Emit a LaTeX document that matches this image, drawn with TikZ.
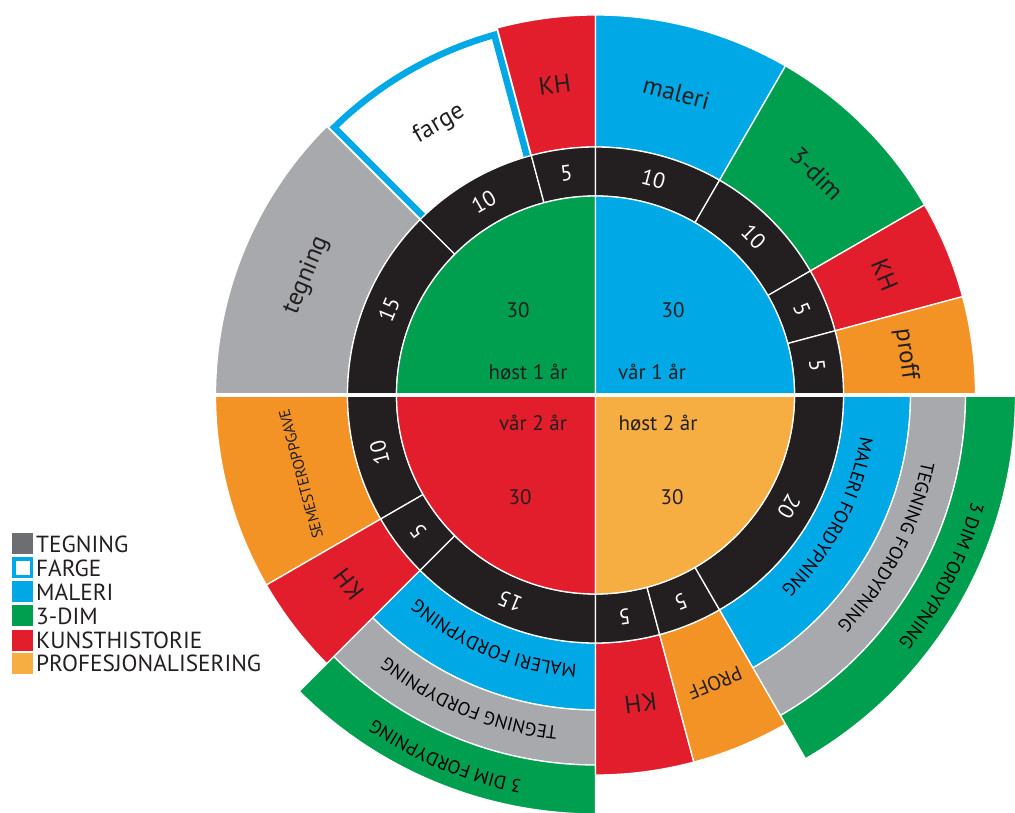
\documentclass[tikz,border=0pt]{standalone}
\usepackage{fontspec}
\setmainfont{PT Sans}
\usetikzlibrary{decorations.text,calc}
\definecolor{cgray}{HTML}{A7A9AC}
\definecolor{cblue}{HTML}{00A8E6}
\definecolor{cgreen}{HTML}{009E4F}
\definecolor{cred}{HTML}{E31E2C}
\definecolor{corange}{HTML}{F39325}
\definecolor{clight}{HTML}{F6AD42}
\definecolor{cblack}{HTML}{231F20}
\definecolor{lgray}{HTML}{6D6E71}
\newcommand{\mysec}[5]{\fill[#5, draw=white, line width=1.3pt] (#1:#3) arc[start angle=#1, end angle=#2, radius=#3] -- (#2:#4) arc[start angle=#2, end angle=#1, radius=#4] -- cycle;}
\newcommand{\myquart}[3]{\fill[#3, draw=white, line width=1.3pt] (0,0) -- (#1:199pt) arc[start angle=#1, end angle=#2, radius=199pt] -- cycle;}
\newcommand{\arcfont}{\fontsize{18.6}{18.6}\selectfont}
\tikzset{
  lbl/.style={font=\fontsize{25}{25}\selectfont, text=cblack, inner sep=0pt},
  small/.style={font=\fontsize{20}{20}\selectfont, text=cblack, inner sep=0pt},
  tiny/.style={font=\fontsize{15.5}{15.5}\selectfont, text=cblack, inner sep=0pt},
  num/.style={font=\fontsize{22}{22}\selectfont, text=white, inner sep=0pt},
  inner/.style={font=\fontsize{21}{21}\selectfont, text=cblack, inner sep=0pt},
  leg/.style={font=\fontsize{23.3}{23.3}\selectfont, text=cblack, inner sep=0pt, anchor=west},
  sq/.style={minimum size=21pt, inner sep=0pt, outer sep=0pt}
}
\begin{document}
\begin{tikzpicture}
\useasboundingbox (0,0) rectangle (1015pt,812pt);
\begin{scope}
\clip (0,0) rectangle (1015pt,812pt);
\begin{scope}[shift={(595.5pt,417pt)}]
% outer segments top-left
\mysec{135}{180}{248pt}{380pt}{cgray}
\mysec{105}{135}{248pt}{380pt}{white}
\mysec{90}{105}{248pt}{380pt}{cred}
% top-right
\mysec{60}{90}{248pt}{380pt}{cblue}
\mysec{30}{60}{248pt}{380pt}{cgreen}
\mysec{15}{30}{248pt}{380pt}{cred}
\mysec{0}{15}{248pt}{380pt}{corange}
% bottom-left
\mysec{180}{210}{248pt}{380pt}{corange}
\mysec{210}{225}{248pt}{380pt}{cred}
\mysec{225}{270}{248pt}{315pt}{cblue}
\mysec{225}{270}{315pt}{370pt}{cgray}
\mysec{225}{270}{370pt}{419pt}{cgreen}
% bottom-right
\mysec{270}{285}{248pt}{380pt}{cred}
\mysec{285}{300}{248pt}{380pt}{corange}
\mysec{300}{360}{248pt}{315pt}{cblue}
\mysec{300}{360}{315pt}{370pt}{cgray}
\mysec{300}{360}{370pt}{420pt}{cgreen}
% farge border
\draw[cblue, line width=6.5pt, line join=miter]
  ($(135:244pt)+(45:4.5pt)$) -- ($(135:374pt)+(45:4.5pt)$)
  arc[start angle=134.31, end angle=105.69, radius=374pt]
  -- ($(105:244pt)+(195:4.5pt)$);
% black ring
\mysec{135}{180}{199pt}{248pt}{cblack}
\mysec{105}{135}{199pt}{248pt}{cblack}
\mysec{90}{105}{199pt}{248pt}{cblack}
\mysec{60}{90}{199pt}{248pt}{cblack}
\mysec{30}{60}{199pt}{248pt}{cblack}
\mysec{15}{30}{199pt}{248pt}{cblack}
\mysec{0}{15}{199pt}{248pt}{cblack}
\mysec{180}{210}{199pt}{248pt}{cblack}
\mysec{210}{225}{199pt}{248pt}{cblack}
\mysec{225}{270}{199pt}{248pt}{cblack}
\mysec{270}{285}{199pt}{248pt}{cblack}
\mysec{285}{300}{199pt}{248pt}{cblack}
\mysec{300}{360}{199pt}{248pt}{cblack}
% inner quarters
\myquart{90}{180}{cgreen}
\myquart{0}{90}{cblue}
\myquart{180}{270}{cred}
\myquart{270}{360}{clight}
\end{scope}
% horizontal gap
\fill[white] (150pt,415pt) rectangle (1015pt,419pt);
\end{scope}

\begin{scope}[shift={(595.5pt,417pt)}]
% ring numbers
\node[num, rotate=67.5] (n15a) at (157.5:223.5pt) {15};
\node[num, rotate=30] (n10a) at (120:223.5pt) {10};
\node[num, rotate=7.5] (n5a) at (97.5:223.5pt) {5};
\node[num, rotate=-15] (n10b) at (75:223.5pt) {10};
\node[num, rotate=-45] (n10c) at (45:223.5pt) {10};
\node[num, rotate=-67.5] (n5b) at (22.5:223.5pt) {5};
\node[num, rotate=-82.5] (n5c) at (7.5:223.5pt) {5};
\node[num, rotate=105] (n10d) at (195:223.5pt) {10};
\node[num, rotate=127.5] (n5d) at (217.5:223.5pt) {5};
\node[num, rotate=157.5] (n15b) at (247.5:223.5pt) {15};
\node[num, rotate=187.5] (n5e) at (277.5:223.5pt) {5};
\node[num, rotate=202.5] (n5f) at (292.5:223.5pt) {5};
\node[num, rotate=240] (n20) at (330:223.5pt) {20};
% outer labels
\node[lbl, rotate=67.5] (tegning) at (157.5:313pt) {tegning};
\node[lbl, rotate=30] (farge) at (120:313pt) {farge};
\node[lbl, rotate=7.5] (kh1) at (97.5:313pt) {KH};
\node[lbl, rotate=-15] (maleri) at (75:313pt) {maleri};
\node[lbl, rotate=-45] (tredim) at (45:313pt) {3-dim};
\node[lbl, rotate=-67.5] (kh2) at (22.5:313pt) {KH};
\node[lbl, rotate=-82.5] (proff) at (7.5:313pt) {proff};
\node[tiny, rotate=105] (sem) at (195:305pt) {SEMESTEROPPGAVE};
\node[lbl, rotate=127.5] (kh3) at (217.5:311pt) {KH};
\node[lbl, rotate=187.5] (kh4) at (278.3:312pt) {KH};
\node[small, rotate=202.5] (proff2) at (292.5:312pt) {PROFF};
% arc texts bottom-left
\path[decorate, decoration={text along path, text align=center, text={|\arcfont|MALERI FORDYPNING}}]
  (270:270pt) arc[start angle=270, end angle=225, radius=270pt];
\path[decorate, decoration={text along path, text align=center, text={|\arcfont|TEGNING FORDYPNING}}]
  (270:334pt) arc[start angle=270, end angle=225, radius=334pt];
\path[decorate, decoration={text along path, text align=center, text={|\arcfont|3 DIM FORDYPNING}}]
  (270:392pt) arc[start angle=270, end angle=225, radius=392pt];
% arc texts bottom-right
\path[decorate, decoration={text along path, text align=center, text={|\arcfont|MALERI FORDYPNING}}]
  (0:268pt) arc[start angle=360, end angle=305, radius=268pt];
\path[decorate, decoration={text along path, text align=center, text={|\arcfont|TEGNING FORDYPNING}}]
  (0:333pt) arc[start angle=360, end angle=305, radius=333pt];
\path[decorate, decoration={text along path, text align=center, text={|\arcfont|3 DIM FORDYPNING}}]
  (0:391pt) arc[start angle=360, end angle=305, radius=391pt];
\end{scope}

% inner texts
\node[inner] (t30a) at (518pt,502pt) {30};
\node[inner] (host1) at (528pt,440pt) {høst 1 år};
\node[inner] (t30b) at (673pt,502pt) {30};
\node[inner] (var1) at (652pt,440pt) {vår 1 år};
\node[inner] (var2) at (533pt,389pt) {vår 2 år};
\node[inner] (t30c) at (520pt,315pt) {30};
\node[inner] (host2) at (658pt,389pt) {høst 2 år};
\node[inner] (t30d) at (672pt,315pt) {30};

% legend
\node[sq, fill=lgray] (s1) at (22.5pt,268pt) {};
\node[sq, fill=white, draw=cblue, line width=3.5pt, minimum size=17.5pt] (s2) at (22.5pt,244pt) {};
\node[sq, fill=cblue] (s3) at (22.5pt,220pt) {};
\node[sq, fill=cgreen] (s4) at (22.5pt,196pt) {};
\node[sq, fill=cred] (s5) at (22.5pt,172pt) {};
\node[sq, fill=clight] (s6) at (22.5pt,149pt) {};
\node[leg] (l1) at (36pt,268pt) {TEGNING};
\node[leg] (l2) at (36pt,244pt) {FARGE};
\node[leg] (l3) at (36pt,220pt) {MALERI};
\node[leg] (l4) at (36pt,196pt) {3-DIM};
\node[leg] (l5) at (36pt,172pt) {KUNSTHISTORIE};
\node[leg] (l6) at (36pt,149pt) {PROFESJONALISERING};
\end{tikzpicture}
\end{document}
